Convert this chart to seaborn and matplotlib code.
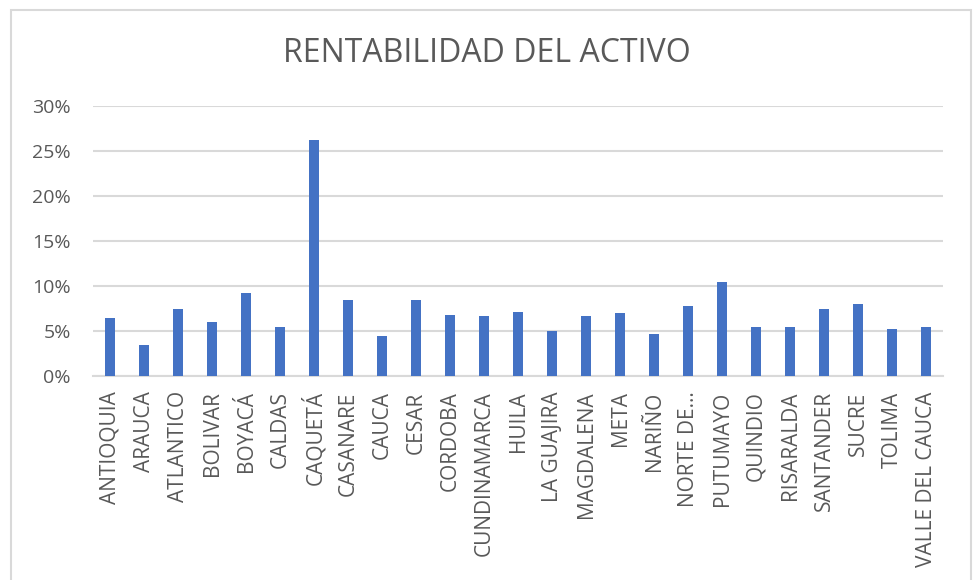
import matplotlib
matplotlib.use("Agg")
import matplotlib.pyplot as plt
import seaborn as sns
import pandas as pd
from matplotlib.patches import Rectangle
from matplotlib.ticker import PercentFormatter

departamentos = ["ANTIOQUIA", "ARAUCA", "ATLANTICO", "BOLIVAR", "BOYACÁ", "CALDAS",
                 "CAQUETÁ", "CASANARE", "CAUCA", "CESAR", "CORDOBA", "CUNDINAMARCA",
                 "HUILA", "LA GUAJIRA", "MAGDALENA", "META", "NARIÑO", "NORTE DE…",
                 "PUTUMAYO", "QUINDIO", "RISARALDA", "SANTANDER", "SUCRE", "TOLIMA",
                 "VALLE DEL CAUCA"]
rentabilidad = [0.064, 0.035, 0.074, 0.0595, 0.092, 0.055,
                0.262, 0.085, 0.045, 0.085, 0.068, 0.0665,
                0.071, 0.050, 0.0665, 0.0695, 0.0465, 0.078,
                0.105, 0.055, 0.055, 0.075, 0.0795, 0.052,
                0.055]
y_ticks = [0, 0.05, 0.10, 0.15, 0.20, 0.25, 0.30]
title = "RENTABILIDAD DEL ACTIVO"

df = pd.DataFrame({"dep": departamentos, "val": rentabilidad})

sns.set_theme(style="white")
plt.rcParams["font.family"] = ["Open Sans", "DejaVu Sans"]
text_color = "#595959"
grid_color = "#d9d9d9"

fig = plt.figure(figsize=(9.74, 5.8), dpi=100)
ax = fig.add_axes([93 / 974, 1 - 376 / 580, 850 / 974, 270 / 580])

sns.barplot(data=df, x="dep", y="val", color="#4472C4", width=0.3,
            saturation=1, linewidth=0, ax=ax, zorder=3)

ax.set_ylim(0, 0.30)
ax.set_yticks(y_ticks)
ax.yaxis.set_major_formatter(PercentFormatter(1.0, decimals=0))
ax.set_xlim(-0.5, len(departamentos) - 0.5)
ax.grid(axis="y", color=grid_color, linewidth=1.5, zorder=0)
for s in ["top", "right", "left"]:
    ax.spines[s].set_visible(False)
ax.spines["bottom"].set_color(grid_color)
ax.spines["bottom"].set_linewidth(1.5)
ax.tick_params(axis="y", length=0, pad=16, labelsize=14, labelcolor=text_color)
ax.tick_params(axis="x", length=0, pad=11, labelsize=15, labelcolor=text_color,
               labelrotation=90)
ax.set_xlabel("")
ax.set_ylabel("")

fig.text(0.5, 1 - 53 / 580, title, ha="center", va="center",
         fontsize=23, color=text_color)

fig.patches.append(Rectangle((11 / 974, -0.05), 960 / 974, 1.05 - 10 / 580,
                             transform=fig.transFigure, fill=False,
                             edgecolor=grid_color, linewidth=1.5))

fig.savefig("out.png", dpi=100)
